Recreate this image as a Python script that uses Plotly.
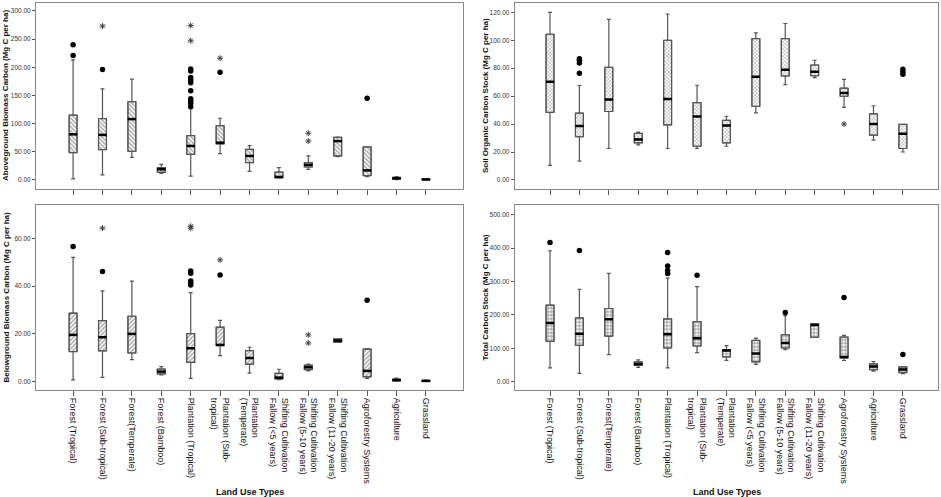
import plotly.graph_objects as go

# categorias del eje x (mismo orden en los cuatro paneles)
land_use = ["Forest (Tropical)", "Forest (Sub-tropical)", "Forest(Temperate)", "Forest (Bamboo)",
            "Plantation (Tropical)", "Plantation (Sub-tropical)", "Plantation (Temperate)",
            "SC Fallow (<5 years)", "SC Fallow (5-10 years)", "SC Fallow (11-20 years)",
            "Agroforestry Systems", "Agriculture", "Grassland"]
tick_labels = ["Forest (Tropical)", "Forest (Sub-tropical)", "Forest(Temperate)", "Forest (Bamboo)",
               "Plantation (Tropical)", "Plantation (Sub-<br>tropical)", "Plantation<br>(Temperate)",
               "Shifting Cultivation<br>Fallow (&lt;5 years)", "Shifting Cultivation<br>Fallow (5-10 years)",
               "Shifting Cultivation<br>Fallow (11-20 years)", "Agroforestry Systems", "Agriculture", "Grassland"]

# Aboveground biomass carbon
agb_low = [2, 9, 40, 11.8, 7, 46.7, 15.4, 3.5, 19, 41.4, 6, 0.8, 0.2]
agb_q1 = [48.5, 54, 51, 13.6, 45.6, 64, 30.8, 4, 23, 42.6, 7.7, 1.5, 0.5]
agb_med = [81, 80, 108, 19, 60.4, 66.2, 42.6, 5.3, 27, 69, 17, 3, 1]
agb_q3 = [115, 109, 139, 21.9, 78.7, 96.4, 54.4, 14, 31, 75.7, 58.6, 4.5, 1.5]
agb_high = [213, 161.5, 179, 27.8, 127, 109.5, 61, 22, 42.6, 76, 59, 6, 2]
agb_dot_cat = [0, 0, 1, 4, 4, 4, 4, 4, 4, 4, 4, 4, 4, 5, 10]
agb_dot_val = [240, 221, 196, 197, 193.5, 181.6, 177.5, 172.7, 158.5, 144, 140, 136, 130, 191, 145]
agb_star_cat = [1, 4, 4, 5, 8, 8]
agb_star_val = [273, 274, 247, 216, 83, 69]

# Soil organic carbon stock
soc_low = [10.4, 13.5, 22.5, 25.1, 22.5, 22.5, 24.1, 48, 68.3, 73.2, 51.9, 28.5, 20]
soc_q1 = [48.3, 30.9, 49, 26.6, 39.4, 24.1, 26.6, 52.6, 74.4, 74.6, 59.9, 32.1, 22.5]
soc_med = [70.3, 38.6, 57.5, 29, 58, 45.4, 38.9, 73.9, 78.9, 77.5, 62.3, 40, 33]
soc_q3 = [104.3, 47.8, 80.6, 33.3, 100, 55.3, 42.7, 101.2, 101.2, 82.3, 65.7, 47.3, 39.8]
soc_high = [120, 67.6, 115, 34.3, 118.8, 67.8, 45.6, 105.3, 112, 85.7, 72, 53.1, 39.8]
soc_dot_cat = [1, 1, 1, 1, 12, 12, 12]
soc_dot_val = [86.7, 85.5, 83.8, 76.3, 79.2, 77.3, 75.6]
soc_star_cat = [10]
soc_star_val = [40]

# Belowground biomass carbon
bgb_low = [0.7, 1.8, 9.2, 2.8, 1.4, 10.9, 3.6, 0.8, 4.5, 16.5, 1.4, 0.2, 0.1]
bgb_q1 = [12.6, 12.9, 12, 3.2, 8.1, 15.1, 7.3, 1.1, 5, 16.5, 2, 0.3, 0.2]
bgb_med = [19.6, 18.6, 20, 4.2, 14, 15.4, 9.9, 1.7, 6, 17.2, 4.5, 0.7, 0.3]
bgb_q3 = [28.7, 25.6, 27.4, 5.3, 20.1, 22.8, 13, 3.5, 6.9, 17.9, 13.6, 1, 0.5]
bgb_high = [52.1, 38, 42.1, 6.3, 37.3, 25.7, 14.4, 5.2, 7.4, 17.9, 13.8, 1.5, 0.6]
bgb_dot_cat = [0, 1, 4, 4, 4, 4, 4, 5, 10]
bgb_dot_val = [56.6, 46.1, 46.4, 45.4, 42.2, 41.4, 40.5, 44.7, 34.1]
bgb_star_cat = [1, 4, 4, 5, 8, 8]
bgb_star_val = [64.3, 65.1, 64.3, 51, 19.6, 16.2]

# Total carbon stock
tc_low = [41.5, 24.9, 81, 42.7, 41.5, 87, 64, 51.6, 96, 133, 63.4, 31.7, 23.7]
tc_q1 = [120.6, 108.7, 136.3, 48.5, 100.7, 106.7, 74, 59, 100.7, 133, 71, 35.6, 26.7]
tc_med = [176, 143.4, 186.7, 53, 142, 130, 93, 84, 115.6, 170, 74, 45.6, 36.7]
tc_q3 = [229, 190.8, 219, 59, 188, 180, 96, 123.6, 140.4, 173, 133.4, 53.3, 44.4]
tc_high = [392, 276.7, 324, 65, 310, 284.5, 108, 130.4, 197.6, 173, 138.4, 60.4, 44.4]
tc_dot_cat = [0, 1, 4, 4, 4, 4, 5, 8, 10, 12]
tc_dot_val = [417, 393, 387, 346, 333, 324, 319, 207.4, 252, 81]
tc_star_cat = []
tc_star_val = []

BOXW = 0.27
FONT = "Liberation Sans"
fig = go.Figure()


def add_panel(n, low, q1, med, q3, high, dot_cat, dot_val, star_cat, star_val, shape, psize, solid):
    xa = "x" if n == 1 else f"x{n}"
    ya = "y" if n == 1 else f"y{n}"
    # caja con textura (barra desde q1 hasta q3)
    fig.add_trace(go.Bar(x=land_use, y=[b - a for a, b in zip(q1, q3)], base=q1, width=BOXW,
                         marker=dict(color="white", line=dict(color="#555", width=1),
                                     pattern=dict(shape=shape, fgcolor="#555", bgcolor="white",
                                                  size=psize, solidity=solid)),
                         xaxis=xa, yaxis=ya, hoverinfo="skip"))
    fig.add_trace(go.Box(x=land_use, lowerfence=low, q1=q1, median=med, q3=q3, upperfence=high,
                         width=BOXW, whiskerwidth=0.5, fillcolor="rgba(0,0,0,0)",
                         line=dict(color="#555", width=1.2), xaxis=xa, yaxis=ya))
    fig.add_trace(go.Scatter(x=land_use, y=med, mode="markers",
                             marker=dict(symbol="line-ew", size=6, line=dict(color="black", width=2.5)),
                             xaxis=xa, yaxis=ya))
    fig.add_trace(go.Scatter(x=[land_use[i] for i in dot_cat], y=dot_val, mode="markers",
                             marker=dict(symbol="circle", size=5.5, color="black"),
                             xaxis=xa, yaxis=ya))
    fig.add_trace(go.Scatter(x=[land_use[i] for i in star_cat], y=star_val, mode="markers",
                             marker=dict(symbol="asterisk-open", size=5, color="#444",
                                         line=dict(color="#444", width=1)),
                             xaxis=xa, yaxis=ya))


add_panel(1, agb_low, agb_q1, agb_med, agb_q3, agb_high, agb_dot_cat, agb_dot_val, agb_star_cat, agb_star_val, "\\", 3, 0.5)
add_panel(2, soc_low, soc_q1, soc_med, soc_q3, soc_high, soc_dot_cat, soc_dot_val, soc_star_cat, soc_star_val, "x", 2.5, 0.4)
add_panel(3, bgb_low, bgb_q1, bgb_med, bgb_q3, bgb_high, bgb_dot_cat, bgb_dot_val, bgb_star_cat, bgb_star_val, "/", 3, 0.5)
add_panel(4, tc_low, tc_q1, tc_med, tc_q3, tc_high, tc_dot_cat, tc_dot_val, tc_star_cat, tc_star_val, ".", 3.5, 0.65)


def xax(domain, rng, labels, anchor):
    d = dict(domain=domain, range=rng, type="category", categoryorder="array", categoryarray=land_use,
             tickvals=land_use, ticktext=tick_labels, anchor=anchor, automargin=False,
             showline=True, mirror=True, linecolor="#888", linewidth=1,
             ticks="outside", ticklen=5, tickcolor="#555", showgrid=False, zeroline=False,
             showticklabels=labels)
    if labels:
        d.update(tickangle=90, tickfont=dict(family=FONT, size=9, color="#111"))
    return d


def yax(domain, rng, step, top, anchor):
    return dict(domain=domain, range=rng, anchor=anchor, automargin=False,
                tickvals=[i * step for i in range(int(top / step) + 1)], tickformat=".2f",
                tickfont=dict(family=FONT, size=6.5, color="#333"),
                ticks="outside", ticklen=3, tickcolor="#555",
                showline=True, mirror=True, linecolor="#888", linewidth=1,
                showgrid=False, zeroline=False)


left = [0.0383, 0.492]
right = [0.547, 0.997]
top = [0.6197, 0.994]
bottom = [0.2153, 0.5875]

fig.update_layout(
    width=941, height=497,
    margin=dict(l=0, r=0, t=0, b=0),
    paper_bgcolor="white", plot_bgcolor="white",
    showlegend=False,
    xaxis=xax(left, [-1.26, 12 + 1.26], False, "y"),
    xaxis2=xax(right, [-1.2, 12 + 1.2], False, "y2"),
    xaxis3=xax(left, [-1.26, 12 + 1.26], True, "y3"),
    xaxis4=xax(right, [-1.2, 12 + 1.2], True, "y4"),
    yaxis=yax(top, [-16, 314], 50, 300, "x"),
    yaxis2=yax(top, [-6.5, 126.7], 20, 120, "x2"),
    yaxis3=yax(bottom, [-3.5, 74], 20, 60, "x3"),
    yaxis4=yax(bottom, [-25, 529], 100, 500, "x4"),
)

# titulos de los ejes y
y_titles = [("Aboveground Biomass Carbon (Mg C per ha)", 0.0064, top),
            ("Soil Organic Carbon Stock (Mg C per ha)", 0.5165, top),
            ("Belowground Biomass Carbon (Mg C per ha)", 0.0064, bottom),
            ("Total Carbon Stock (Mg C per ha)", 0.5155, bottom)]
for txt, xp, dom in y_titles:
    fig.add_annotation(x=xp, y=(dom[0] + dom[1]) / 2, xref="paper", yref="paper", textangle=-90,
                       xanchor="center", yanchor="middle",
                       text="<b>" + txt + "</b>", showarrow=False,
                       font=dict(family=FONT, size=8, color="#111"))

for xc in [0.2657, 0.7726]:
    fig.add_annotation(x=xc, y=0.01, xref="paper", yref="paper", text="<b>Land Use Types</b>",
                       xanchor="center", yanchor="middle",
                       showarrow=False, font=dict(family=FONT, size=9, color="#111"))

# sin el margen de 8px del body, la figura ocupa toda la ventana
fig.write_html("out.html", config={"displayModeBar": False},
               post_script="document.body.style.margin='0';")
